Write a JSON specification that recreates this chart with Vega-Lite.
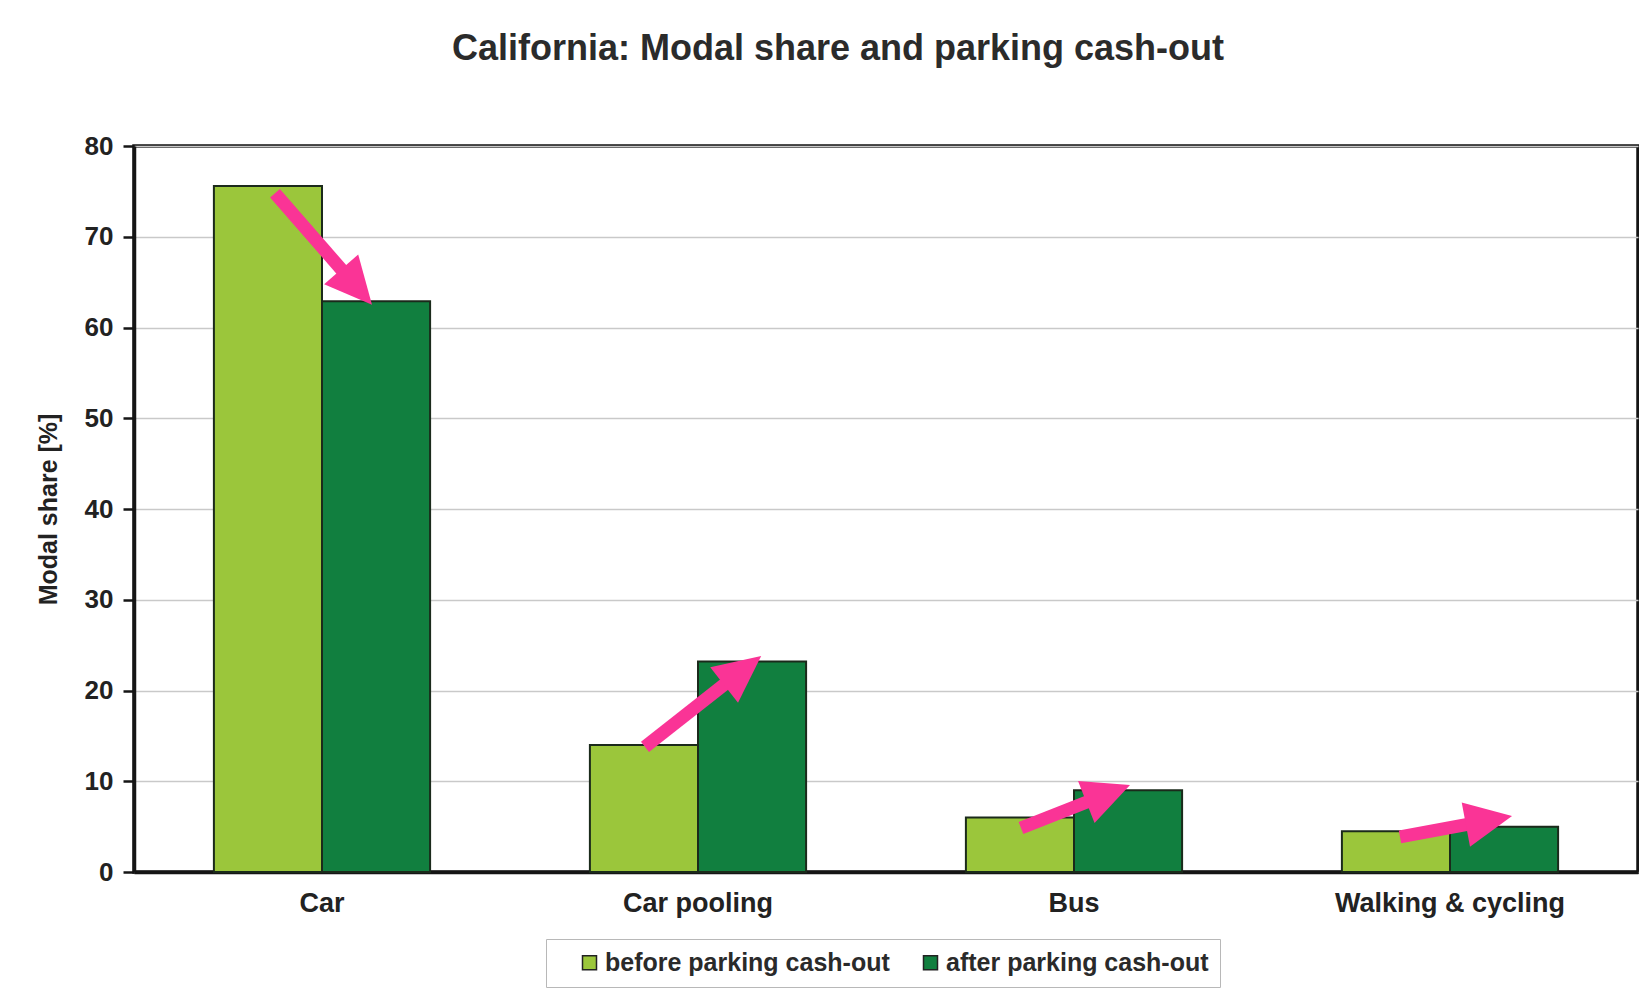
{
  "$schema": "https://vega.github.io/schema/vega-lite/v6.json",
  "width": 1504,
  "height": 726,
  "autosize": {"type": "none"},
  "padding": {"left": 134, "top": 146, "right": 1, "bottom": 129},
  "background": "white",
  "title": {
    "text": "California: Modal share and parking cash-out",
    "fontSize": 36,
    "fontWeight": "bold",
    "color": "#2b2b2b",
    "anchor": "middle",
    "dx": -48,
    "offset": 65
  },
  "config": {
    "font": "Liberation Sans",
    "view": {"stroke": "#151515", "strokeWidth": 3.5}
  },
  "datasets": {
    "shares": [
      {"mode": "Car", "period": "before parking cash-out", "share": 75.6},
      {"mode": "Car", "period": "after parking cash-out", "share": 62.9},
      {"mode": "Car pooling", "period": "before parking cash-out", "share": 14.0},
      {"mode": "Car pooling", "period": "after parking cash-out", "share": 23.2},
      {"mode": "Bus", "period": "before parking cash-out", "share": 6.0},
      {"mode": "Bus", "period": "after parking cash-out", "share": 9.0},
      {"mode": "Walking & cycling", "period": "before parking cash-out", "share": 4.5},
      {"mode": "Walking & cycling", "period": "after parking cash-out", "share": 5.0}
    ],
    "arrows": [
      {"mode": "Car", "tailX": 0.375, "tailY": 74.8, "shaftX": 0.581, "shaftY": 65.0, "tipX": 0.633, "tipY": 62.5, "heading": 139},
      {"mode": "Car pooling", "tailX": 1.359, "tailY": 13.8, "shaftX": 1.605, "shaftY": 21.8, "tipX": 1.668, "tipY": 23.8, "heading": 52},
      {"mode": "Bus", "tailX": 2.359, "tailY": 4.85, "shaftX": 2.575, "shaftY": 8.37, "tipX": 2.649, "tipY": 9.6, "heading": 68.5},
      {"mode": "Walking & cycling", "tailX": 3.367, "tailY": 3.86, "shaftX": 3.586, "shaftY": 5.56, "tipX": 3.665, "tipY": 6.17, "heading": 79.4}
    ]
  },
  "layer": [
    {
      "data": {"name": "shares"},
      "mark": {"type": "bar", "stroke": "#1b2a1b", "strokeWidth": 2},
      "encoding": {
        "x": {
          "field": "mode",
          "type": "nominal",
          "sort": ["Car", "Car pooling", "Bus", "Walking & cycling"],
          "scale": {"paddingInner": 0.425, "paddingOuter": 0.2125},
          "axis": {
            "title": null,
            "labelAngle": 0,
            "labelFontSize": 27,
            "labelFontWeight": "bold",
            "labelColor": "#222222",
            "labelLimit": 400,
            "ticks": false,
            "labelPadding": 18,
            "domainColor": "#151515",
            "domainWidth": 3.5
          }
        },
        "xOffset": {
          "field": "period",
          "type": "nominal",
          "sort": ["before parking cash-out", "after parking cash-out"],
          "scale": {"paddingInner": 0, "paddingOuter": 0}
        },
        "y": {
          "field": "share",
          "type": "quantitative",
          "scale": {"domain": [0, 80], "nice": false},
          "axis": {
            "title": "Modal share [%]",
            "titleFontSize": 25,
            "titleFontWeight": "bold",
            "titleColor": "#222222",
            "titlePadding": 23,
            "values": [0, 10, 20, 30, 40, 50, 60, 70, 80],
            "labelFontSize": 26,
            "labelFontWeight": "bold",
            "labelColor": "#222222",
            "labelPadding": 10,
            "tickSize": 11,
            "tickColor": "#151515",
            "tickWidth": 2.5,
            "domainColor": "#151515",
            "domainWidth": 3.5,
            "gridColor": "#c9c9c9",
            "gridWidth": 1.5
          }
        },
        "color": {
          "field": "period",
          "type": "nominal",
          "sort": ["before parking cash-out", "after parking cash-out"],
          "scale": {"domain": ["before parking cash-out", "after parking cash-out"], "range": ["#9bc63b", "#117f3f"]},
          "legend": {
            "title": " ",
            "titleOrient": "left",
            "titlePadding": 20,
            "orient": "none",
            "legendX": 412,
            "legendY": 793,
            "direction": "horizontal",
            "columns": 2,
            "columnPadding": 28,
            "padding": 11,
            "strokeColor": "#b8b8b8",
            "fillColor": "white",
            "symbolType": "square",
            "symbolSize": 196,
            "symbolStrokeColor": "#222222",
            "symbolStrokeWidth": 1.5,
            "labelFontSize": 25,
            "labelFontWeight": "bold",
            "labelColor": "#2a2a2a",
            "labelOffset": 3,
            "labelLimit": 400
          }
        }
      }
    },
    {
      "data": {"name": "arrows"},
      "mark": {"type": "rule", "color": "#fa3496", "strokeWidth": 13, "strokeCap": "butt"},
      "encoding": {
        "x": {"field": "tailX", "type": "quantitative", "scale": {"domain": [0, 4], "nice": false, "zero": false}, "axis": null},
        "y": {"field": "tailY", "type": "quantitative"},
        "x2": {"field": "shaftX"},
        "y2": {"field": "shaftY"}
      }
    },
    {
      "data": {"name": "arrows"},
      "mark": {"type": "point", "shape": "M0,0L0.48,1L-0.48,1Z", "filled": true, "size": 8836, "color": "#fa3496", "opacity": 1, "strokeWidth": 0},
      "encoding": {
        "x": {"field": "tipX", "type": "quantitative", "scale": {"domain": [0, 4], "nice": false, "zero": false}, "axis": null},
        "y": {"field": "tipY", "type": "quantitative"},
        "angle": {"field": "heading", "type": "quantitative", "scale": null}
      }
    }
  ],
  "resolve": {"scale": {"x": "independent", "xOffset": "independent"}, "axis": {"x": "independent"}}
}
